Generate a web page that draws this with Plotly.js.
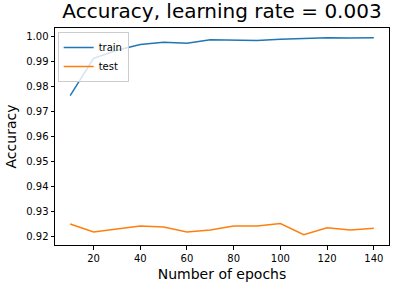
<!DOCTYPE html>
<html>
<head>
<meta charset="utf-8">
<script src="https://cdn.plot.ly/plotly-3.0.1.min.js"></script>
<style>html,body{margin:0;padding:0;background:#fff;}#chart{width:396px;height:287px;}</style>
</head>
<body>
<div id="chart"></div>
<script>
const epochs = [10, 20, 30, 40, 50, 60, 70, 80, 90, 100, 110, 120, 130, 140];
const trainAcc = [0.9763, 0.9912, 0.9944, 0.9967, 0.9976, 0.9972, 0.9986, 0.9986, 0.9983, 0.9988, 0.9992, 0.9994, 0.9993, 0.9994];
const testAcc = [0.9251, 0.9219, 0.9231, 0.9243, 0.9239, 0.9219, 0.9227, 0.9243, 0.9243, 0.9253, 0.9208, 0.9236, 0.9227, 0.9234];
const xTicks = [20, 40, 60, 80, 100, 120, 140];
const yTicks = [0.92, 0.93, 0.94, 0.95, 0.96, 0.97, 0.98, 0.99, 1.00];

const font = "DejaVu Sans, sans-serif";
const traces = [
  {x: epochs, y: trainAcc, name: 'train', mode: 'lines', line: {color: '#1f77b4', width: 1.5}},
  {x: epochs, y: testAcc, name: 'test', mode: 'lines', line: {color: '#ff7f0e', width: 1.5}}
];
const axisCommon = {
  showline: true, mirror: true, linecolor: '#000', linewidth: 1,
  ticks: 'outside', ticklen: 3.5, tickwidth: 1, tickcolor: '#000',
  showgrid: false, zeroline: false,
  tickfont: {family: font, size: 10, color: '#000'}
};
const layout = {
  width: 396, height: 287,
  margin: {l: 55, r: 7, t: 28, b: 42},
  paper_bgcolor: '#fff', plot_bgcolor: '#fff',
  title: {text: 'Accuracy, learning rate = 0.003', font: {family: font, size: 20, color: '#000'},
          xref: 'paper', x: 0.5, xanchor: 'center', yref: 'container', y: 1 - 4/287, yanchor: 'top'},
  xaxis: Object.assign({}, axisCommon, {
    range: [3.5, 146.5], tickvals: xTicks, ticktext: xTicks.map(String),
    title: {text: 'Number of epochs', font: {family: font, size: 14, color: '#000'}, standoff: 6}
  }),
  yaxis: Object.assign({}, axisCommon, {
    range: [0.9167, 1.0033], tickvals: yTicks, ticktext: yTicks.map(v => v.toFixed(2)),
    title: {text: 'Accuracy', font: {family: font, size: 14, color: '#000'}, standoff: 6}
  }),
  showlegend: true,
  legend: {x: 0.008, y: 0.982, xanchor: 'left', yanchor: 'top',
           bgcolor: 'rgba(255,255,255,0.8)', bordercolor: '#cccccc', borderwidth: 1,
           font: {family: font, size: 10, color: '#000'}, tracegroupgap: 0, itemwidth: 30}
};
Plotly.newPlot('chart', traces, layout, {displayModeBar: false, staticPlot: true});
</script>
</body>
</html>
